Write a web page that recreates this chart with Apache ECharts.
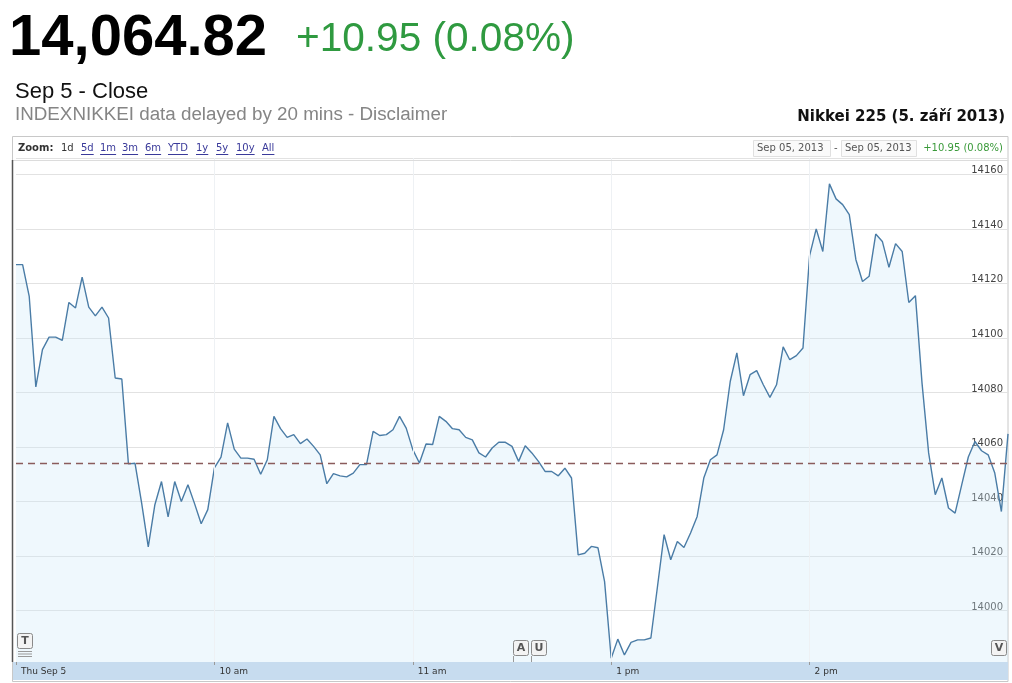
<!DOCTYPE html>
<html><head><meta charset="utf-8">
<script src="https://cdn.jsdelivr.net/npm/echarts/dist/echarts.min.js"></script>
<style>html,body{margin:0;padding:0;background:#fff;}#c{width:1012px;height:683px;}</style>
</head><body><div id="c"></div>
<script>
// Nikkei 225 intraday, Sep 5 2013, 2-minute points (morning 09:00-11:30, afternoon 12:30-15:00)
const prices = [
14126.9,14126.9,14115.2,14082.0,14095.7,14100.3,14100.3,14099.1,14113.0,14111.0,
14122.3,14111.3,14108.1,14111.3,14107.3,14085.3,14084.9,14053.8,14054.0,14039.4,
14023.3,14038.8,14047.3,14034.3,14047.3,14040.0,14046.1,14039.2,14031.8,14037.0,
14052.3,14056.3,14068.8,14059.2,14055.9,14055.9,14055.5,14050.0,14055.3,14071.2,
14066.7,14063.5,14064.5,14061.2,14062.9,14060.2,14057.1,14046.5,14050.2,14049.4,
14049.0,14050.4,14053.5,14053.5,14065.7,14064.2,14064.5,14066.3,14071.2,14066.9,
14059.0,14054.1,14061.1,14060.9,14071.2,14069.4,14066.7,14066.3,14063.5,14062.6,
14057.8,14056.3,14059.6,14061.7,14061.7,14060.2,14054.7,14060.4,14057.8,14054.7,
14051.0,14051.0,14049.4,14052.2,14048.6,14020.4,14021.0,14023.5,14023.0,14010.6,
13982.5,13989.5,13983.7,13988.3,13989.2,13989.2,13989.9,14008.8,14027.8,14018.6,
14025.3,14023.1,14028.4,14034.5,14048.6,14055.3,14057.1,14066.3,14084.0,14094.5,
14078.8,14086.5,14088.0,14082.8,14078.2,14082.8,14096.7,14092.0,14093.5,14096.3,
14130.2,14140.0,14131.7,14156.5,14151.0,14148.9,14145.2,14128.7,14120.7,14122.6,
14138.1,14135.4,14125.9,14134.6,14131.7,14113.0,14115.5,14083.4,14057.8,14042.5,
14048.6,14037.6,14035.7,14046.1,14056.3,14062.0,14058.6,14057.1,14050.4,14036.3,
14064.8
];
const prevClose = 14053.87;
const tickLabels = {"09:00":"Thu Sep 5","10:00":"10 am","11:00":"11 am","13:00":"1 pm","14:00":"2 pm"};
const zoomLinks = ["1d","5d","1m","3m","6m","YTD","1y","5y","10y","All"];
const zoomX = [61,81,100,122,145,168,196,216,236,262];
const yMin = 13980, yMax = 14166, yStep = 20;

// time categories (trading session, lunch break skipped)
const times = [];
function fmt(m){const h=Math.floor(m/60),mm=m%60;return (h<10?'0':'')+h+':'+(mm<10?'0':'')+mm;}
for(let i=0;i<prices.length;i++){
  const m = i<=75 ? 540+2*i : 750+2*(i-75);
  times.push(fmt(m));
}
const isTick = (idx)=> tickLabels[times[idx]]!==undefined;

const measureCtx = document.createElement('canvas').getContext('2d');
function textW(t, font){ measureCtx.font = font; return measureCtx.measureText(t).width; }

const chart = echarts.init(document.getElementById('c'), null, {renderer:'canvas'});
const graphics = [
  {type:'text', z:10, style:{text:'14,064.82', x:9, y:39, font:'bold 58px "Liberation Sans", Arial', fill:'#000', textVerticalAlign:'middle'}},
  {type:'text', z:10, style:{text:'+10.95 (0.08%)', x:296, y:40, font:'40.6px "Liberation Sans", Arial', fill:'#2f9a40', textVerticalAlign:'middle'}},
  {type:'text', z:10, style:{text:'Sep 5 - Close', x:15, y:92, font:'22px "Liberation Sans", Arial', fill:'#111', textVerticalAlign:'middle'}},
  {type:'text', z:10, style:{text:'INDEXNIKKEI data delayed by 20 mins - Disclaimer', x:15, y:115, font:'18.8px "Liberation Sans", Arial', fill:'#858585', textVerticalAlign:'middle'}},
  {type:'text', z:10, style:{text:'Nikkei 225 (5. září 2013)', x:1005, y:117, font:'bold 15px "DejaVu Sans"', fill:'#111', textAlign:'right', textVerticalAlign:'middle'}},
  // frame
  {type:'rect', z:0, shape:{x:12.5, y:136.5, width:995.5, height:545}, style:{fill:'none', stroke:'#c8c8c8', lineWidth:1}},
  {type:'line', z:10, shape:{x1:12.5,y1:160.5,x2:1008,y2:160.5}, style:{stroke:'#dcdcdc', lineWidth:1}},
  {type:'line', z:10, shape:{x1:12.5,y1:160,x2:12.5,y2:662}, style:{stroke:'#555', lineWidth:1.5}},
  // toolbar
  {type:'text', z:10, style:{text:'Zoom:', x:18, y:148, font:'bold 10px "DejaVu Sans"', fill:'#333', textVerticalAlign:'middle'}},
  {type:'text', z:10, style:{text:'Sep 05, 2013', x:757, y:148, font:'10px "DejaVu Sans"', fill:'#555', textVerticalAlign:'middle'}},
  {type:'rect', z:9, shape:{x:753.5, y:140.5, width:77, height:16}, style:{fill:'#fafafa', stroke:'#e0e0e0'}},
  {type:'text', z:10, style:{text:'-', x:834, y:148, font:'10px "DejaVu Sans"', fill:'#555', textVerticalAlign:'middle'}},
  {type:'text', z:10, style:{text:'Sep 05, 2013', x:845, y:148, font:'10px "DejaVu Sans"', fill:'#555', textVerticalAlign:'middle'}},
  {type:'rect', z:9, shape:{x:841.5, y:140.5, width:75, height:16}, style:{fill:'#fafafa', stroke:'#e0e0e0'}},
  {type:'text', z:10, style:{text:'+10.95 (0.08%)', x:1003, y:148, font:'10px "DejaVu Sans"', fill:'#3a9a3a', textAlign:'right', textVerticalAlign:'middle'}},
  // bottom navigator band
  {type:'rect', z:3, shape:{x:13, y:662, width:995, height:18}, style:{fill:'#c7dcef'}},
];
zoomLinks.forEach((t,k)=>{
  const col = k===0 ? '#333' : '#3a3a9a';
  const f = '10px "DejaVu Sans"';
  graphics.push({type:'text', z:10, style:{text:t, x:zoomX[k], y:148, font:f, fill:col, textVerticalAlign:'middle'}});
  if(k>0){
    graphics.push({type:'line', z:10, shape:{x1:zoomX[k], y1:154.5, x2:zoomX[k]+textW(t,f), y2:154.5}, style:{stroke:col, lineWidth:1}});
  }
});
// event flags
function flag(letter, x, y, stem){
  graphics.push({type:'rect', z:6, shape:{x:x+0.5, y:y+0.5, width:15, height:15, r:2}, style:{fill:'#f3f3f3', stroke:'#8a8a8a', lineWidth:1}});
  graphics.push({type:'text', z:7, style:{text:letter, x:x+8, y:y+8.5, font:'bold 11px "DejaVu Sans"', fill:'#555', textAlign:'center', textVerticalAlign:'middle'}});
  if(stem) graphics.push({type:'line', z:6, shape:{x1:x+0.5,y1:y+16,x2:x+0.5,y2:662}, style:{stroke:'#999', lineWidth:1}});
}
flag('T', 17, 633, false);
graphics.push({type:'line', z:6, shape:{x1:18,y1:651.5,x2:32,y2:651.5}, style:{stroke:'#999'}});
graphics.push({type:'line', z:6, shape:{x1:18,y1:654,x2:32,y2:654}, style:{stroke:'#999'}});
graphics.push({type:'line', z:6, shape:{x1:18,y1:656.5,x2:32,y2:656.5}, style:{stroke:'#999'}});
flag('A', 513, 640, true);
flag('U', 531, 640, true);
flag('V', 991, 640, false);

chart.setOption({
  animation:false,
  backgroundColor:'#fff',
  grid:{left:16, right:4, top:158, bottom:18, containLabel:false},
  xAxis:{
    type:'category', data:times, boundaryGap:false, z:5,
    axisLine:{show:false},
    axisTick:{show:true, inside:true, length:3, interval:(i)=>isTick(i), lineStyle:{color:'#999'}},
    axisLabel:{show:true, interval:(i)=>isTick(i), formatter:(v)=>tickLabels[v]||'', align:'left', padding:[0,0,0,5], margin:2,
      fontFamily:'DejaVu Sans', fontSize:9, color:'#333', verticalAlign:'top'},
    splitLine:{show:true, interval:(i)=>isTick(i) && i>0, lineStyle:{color:'#eef1f4', width:1}}
  },
  yAxis:{
    type:'value', position:'right', min:yMin, max:yMax, interval:yStep, scale:true,
    axisLine:{show:false}, axisTick:{show:false},
    axisLabel:{inside:true, margin:5, fontFamily:'DejaVu Sans', fontSize:10, color:'#444', verticalAlign:'bottom', lineHeight:7,
      formatter:(v)=> (v%yStep===0 && v>yMin) ? String(v) : ''},
    splitLine:{lineStyle:{color:'#e2e2e2', width:1}}
  },
  series:[{
    type:'line', data:prices, showSymbol:false, z:2,
    lineStyle:{color:'#4a7ca6', width:1.4},
    areaStyle:{color:'rgba(205,232,250,0.45)', origin:'start'},
    markLine:{silent:true, symbol:'none', label:{show:false},
      lineStyle:{type:[7,5], color:'#8a5c5c', width:1.3},
      data:[{yAxis:prevClose}]}
  }],
  graphic:graphics
});
</script></body></html>
